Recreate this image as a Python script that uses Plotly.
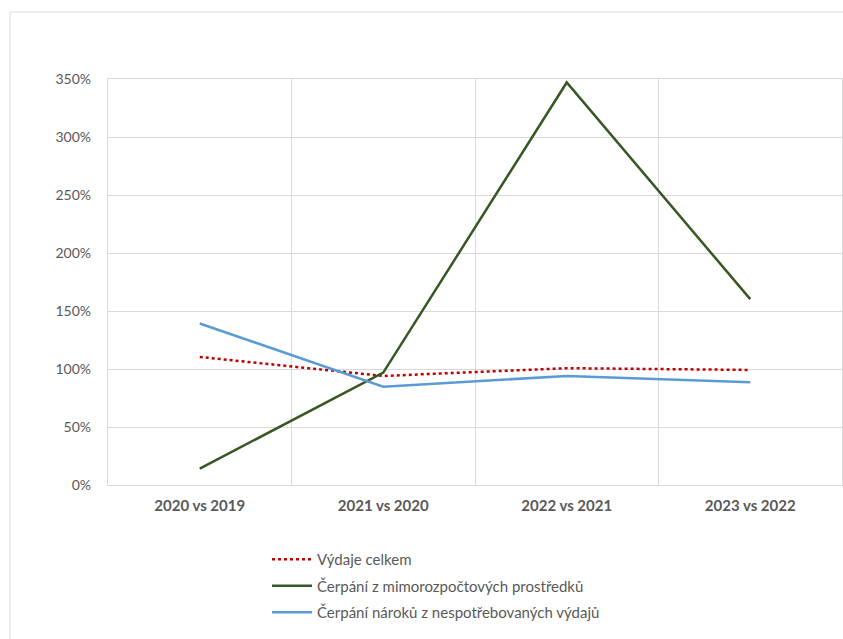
import plotly.graph_objects as go

categories = ["2020 vs 2019", "2021 vs 2020", "2022 vs 2021", "2023 vs 2022"]
vydaje_celkem = [110.4, 94.0, 100.7, 99.2]
mimorozpoctove = [14.1, 96.9, 347.0, 160.2]
naroky = [139.2, 84.8, 94.0, 88.6]
ytick_vals = [0, 50, 100, 150, 200, 250, 300, 350]
ytick_labels = ["0%", "50%", "100%", "150%", "200%", "250%", "300%", "350%"]

W, H = 843, 639
L, R, T, B = 108, 842, 79, 485

fig = go.Figure()
fig.add_trace(go.Scatter(x=categories, y=vydaje_celkem, mode="lines",
                         name="Výdaje celkem", legendgroup="a",
                         line=dict(color="#c00000", width=2.5, dash="dot")))
fig.add_trace(go.Scatter(x=categories, y=mimorozpoctove, mode="lines",
                         name="Čerpání z mimorozpočtových prostředků", legendgroup="b",
                         line=dict(color="#385723", width=2.5)))
fig.add_trace(go.Scatter(x=categories, y=naroky, mode="lines",
                         name="Čerpání nároků z nespotřebovaných výdajů", legendgroup="c",
                         line=dict(color="#5b9bd5", width=2.5)))

pw, ph = R - L, B - T
fig.add_shape(type="rect", xref="paper", yref="paper",
              x0=(10 - L) / pw, x1=(W + 20 - L) / pw,
              y0=(B - (H + 20)) / ph, y1=(B - 12) / ph,
              line=dict(color="#d9d9d9", width=1), layer="below")

fig.update_layout(
    width=W, height=H,
    margin=dict(l=L, r=W - R, t=T, b=H - B),
    paper_bgcolor="white", plot_bgcolor="white",
    font=dict(family="Lato, 'Open Sans', sans-serif", color="#595959", size=13),
    xaxis=dict(type="category", tickson="boundaries", showgrid=True,
               gridcolor="#d9d9d9", gridwidth=1.3,
               showline=True, linecolor="#d9d9d9", linewidth=1.3, mirror=True,
               ticks="", ticklabelstandoff=7,
               tickfont=dict(size=15, color="#595959", weight="bold"),
               range=[-0.5, 3.5], fixedrange=True),
    yaxis=dict(range=[0, 350], tickmode="array", tickvals=ytick_vals, ticktext=ytick_labels,
               showgrid=True, gridcolor="#d9d9d9", gridwidth=1.3,
               showline=True, linecolor="#d9d9d9", linewidth=1.3, mirror=True,
               zeroline=False, ticks="", ticklabelstandoff=13,
               tickfont=dict(size=14, color="#595959")),
    showlegend=True,
    legend=dict(x=(267 - L) / pw, y=(B - 543) / ph, xanchor="left", yanchor="top",
                orientation="v", font=dict(size=15, color="#595959"),
                traceorder="grouped", tracegroupgap=4,
                itemwidth=40, bgcolor="rgba(0,0,0,0)"),
)

fig.write_html("out.html")
